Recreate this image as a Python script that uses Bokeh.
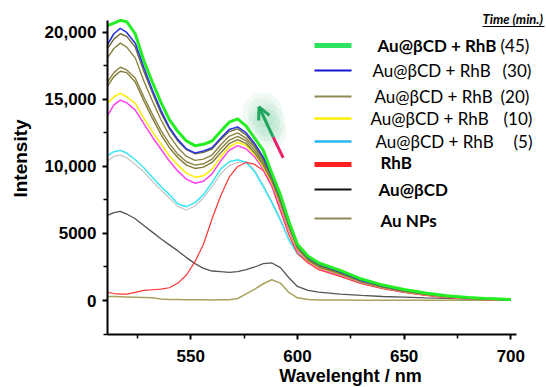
from bokeh.plotting import figure
from bokeh.models import Range1d, FixedTicker, Label, Arrow, OpenHead
from bokeh.embed import file_html
from bokeh.resources import INLINE

# ---------------- data ----------------
wavelength = [511, 514, 517, 520, 524, 528, 532, 536, 540, 544, 548, 552, 556, 560,
              564, 568, 572, 576, 580, 584, 588, 592, 596, 600, 605, 610, 620, 630,
              640, 650, 660, 670, 680, 690, 700]

au_cd_rhb_45 = [20500, 20700, 20900, 20800, 19900, 17900, 16300, 14800, 13500, 12600, 11900, 11550,
                11650, 11900, 12600, 13300, 13550, 13000, 12100, 11200, 9500, 7900, 5900, 4200,
                3300, 2800, 2250, 1600, 1150, 820, 560, 360, 230, 140, 70]
au_cd_rhb_30 = [19100, 19900, 20300, 20000, 19200, 17400, 15700, 14200, 12900, 12000, 11300, 11000,
                11150, 11400, 12100, 12750, 12950, 12500, 11700, 10700, 9300, 7700, 5700, 4100,
                3200, 2700, 2150, 1500, 1080, 760, 520, 330, 200, 120, 50]
au_cd_rhb_25 = [18800, 19500, 19900, 19700, 18900, 17100, 15500, 14000, 12800, 11900, 11250, 10950,
                11050, 11300, 12000, 12600, 12800, 12350, 11550, 10550, 9200, 7600, 5650, 4050,
                3150, 2650, 2100, 1480, 1050, 740, 500, 320, 190, 110, 50]
au_cd_rhb_20 = [18100, 18800, 19200, 18900, 18100, 16400, 14900, 13500, 12300, 11400, 10750, 10450,
                10550, 10850, 11600, 12250, 12500, 12100, 11400, 10400, 9100, 7500, 5600, 4000,
                3100, 2600, 2050, 1450, 1030, 720, 490, 310, 180, 100, 40]
au_cd_rhb_15a = [16300, 17000, 17400, 17200, 16600, 15200, 13900, 12700, 11700, 10900, 10350, 10100,
                 10200, 10550, 11300, 11950, 12250, 11900, 11200, 10250, 9000, 7400, 5550, 3950,
                 3050, 2550, 2000, 1420, 1000, 700, 470, 300, 170, 100, 40]
au_cd_rhb_15b = [16000, 16700, 17100, 17000, 16300, 14900, 13600, 12400, 11400, 10650, 10100, 9850,
                 9950, 10300, 11000, 11700, 12000, 11700, 11000, 10100, 8900, 7300, 5500, 3900,
                 3000, 2500, 1980, 1400, 980, 690, 460, 290, 170, 90, 30]
au_cd_rhb_10 = [14700, 15200, 15450, 15200, 14700, 13600, 12600, 11700, 10800, 10100, 9500, 9200,
                9300, 9800, 10700, 11450, 11800, 11550, 10900, 9950, 8800, 7200, 5400, 3850,
                2950, 2450, 1950, 1380, 970, 680, 450, 280, 160, 90, 30]
au_cd_rhb_8 = [13800, 14600, 14950, 14750, 14200, 13200, 12200, 11300, 10400, 9650, 9050, 8750,
               8900, 9450, 10400, 11200, 11550, 11300, 10700, 9800, 8600, 7000, 5250, 3750,
               2900, 2400, 1900, 1350, 950, 660, 440, 270, 150, 80, 20]
au_cd_rhb_5 = [10800, 11100, 11200, 11000, 10500, 9900, 9200, 8500, 7900, 7200, 7000, 7300,
               7900, 8800, 9800, 10350, 10500, 10300, 9600, 8500, 7300, 6000, 4500, 3500,
               2950, 2450, 1900, 1300, 920, 640, 420, 260, 140, 70, 20]
au_cd_rhb_2 = [10400, 10750, 10850, 10650, 10150, 9600, 8900, 8250, 7650, 7000, 6750, 7050,
               7650, 8500, 9450, 10050, 10300, 10350, 9700, 8600, 7400, 6100, 4600, 3500,
               2900, 2400, 1850, 1270, 900, 620, 400, 240, 130, 60, 20]
rhb = [600, 520, 480, 470, 600, 750, 800, 850, 950, 1300, 1900, 2900,
       4200, 6100, 7800, 9200, 10000, 10300, 10150, 9700, 8500, 6700, 4900, 3500,
       2800, 2300, 1800, 1250, 880, 600, 380, 220, 120, 50, 10]
au_cd = [6350, 6550, 6650, 6450, 6100, 5600, 5100, 4600, 4150, 3700, 3200, 2750,
         2400, 2200, 2150, 2100, 2150, 2300, 2500, 2750, 2800, 2450, 1700, 1050,
         750, 620, 480, 380, 300, 250, 200, 160, 130, 110, 100]
au_nps = [300, 290, 280, 270, 250, 230, 210, 120, 80, 70, 60, 60,
          60, 40, 50, 60, 150, 500, 850, 1250, 1550, 1300, 600, 200,
          80, 40, 30, 20, 20, 10, 10, 10, 10, 10, 10]

x_ticks = [550, 600, 650, 700]
x_minor = [525, 575, 625, 675]
y_ticks = [0, 5000, 10000, 15000, 20000]
y_minor = [-2500, 2500, 7500, 12500, 17500]
y_tick_labels = ["0", "5000", "10,000", "15,000", "20,000"]

legend_names = ["Au@\u03b2CD + RhB", "Au@\u03b2CD + RhB", "Au@\u03b2CD + RhB", "Au@\u03b2CD + RhB",
                "Au@\u03b2CD + RhB", "RhB", "Au@\u03b2CD", "Au NPs"]
legend_times = ["(45)", "(30)", "(20)", "(10)", "(5)", "", "", ""]

# ---------------- figure ----------------
X0, X1 = 511, 702.5
Y0, Y1 = -2500, 20900
W, H = 546, 387

# reference-picture pixel -> data coordinate helpers (for annotations only)
def dx(px):
    return X0 + (px - 107) / 2.134

def dy(py):
    return (300 - py) * 74.6

p = figure(width=W, height=H, output_backend="svg", toolbar_location=None,
           x_range=Range1d(dx(0), dx(W)), y_range=Range1d(dy(H), dy(0)),
           min_border=0)
p.outline_line_color = None
p.xgrid.visible = False
p.ygrid.visible = False

for ax in (p.xaxis[0], p.yaxis[0]):
    ax.axis_line_width = 2
    ax.axis_line_color = "black"
    ax.major_tick_out = 5
    ax.major_tick_in = 0
    ax.minor_tick_out = 4
    ax.minor_tick_in = 0
    ax.major_tick_line_width = 2
    ax.minor_tick_line_width = 1.5
    ax.major_label_text_font = "Liberation Sans"
    ax.major_label_text_font_style = "bold"
    ax.major_label_text_font_size = "17px"
    ax.major_label_text_color = "black"

p.xaxis[0].fixed_location = Y0
p.yaxis[0].fixed_location = X0
p.xaxis[0].bounds = (X0, X1)
p.yaxis[0].bounds = (Y0, Y1)
p.xaxis[0].ticker = FixedTicker(ticks=x_ticks, minor_ticks=x_minor)
p.yaxis[0].ticker = FixedTicker(ticks=y_ticks, minor_ticks=y_minor)
p.yaxis[0].major_label_overrides = {t: s for t, s in zip(y_ticks, y_tick_labels)}
p.xaxis[0].major_label_standoff = 11
p.yaxis[0].major_label_standoff = 6

# axis titles
p.add_layout(Label(x=dx(350), y=dy(375), text="Wavelenght / nm", text_font="Liberation Sans",
                   text_font_size="18px", text_font_style="bold", text_align="center",
                   text_baseline="middle", text_color="black"))
p.add_layout(Label(x=dx(20), y=dy(158), text="Intensity", text_font="Liberation Sans",
                   text_font_size="19px", text_font_style="bold", text_align="center",
                   text_baseline="middle", angle=1.5708, text_color="black"))

# ---------------- curves ----------------
series = [
    (au_cd_rhb_2, "#C8C8C8", 1.3),
    (au_cd_rhb_5, "#38E6F5", 1.5),
    (au_nps, "#A8A25C", 1.5),
    (au_cd, "#555555", 1.3),
    (rhb, "#FF3535", 1.2),
    (au_cd_rhb_8, "#FF40EE", 1.5),
    (au_cd_rhb_10, "#FFEE00", 1.5),
    (au_cd_rhb_15b, "#807A36", 1.4),
    (au_cd_rhb_15a, "#8A8440", 1.4),
    (au_cd_rhb_20, "#8A8440", 1.4),
    (au_cd_rhb_25, "#6E6A3A", 1.4),
    (au_cd_rhb_30, "#2B35E0", 1.6),
    (au_cd_rhb_45, "#22EE22", 3),
]
for ys, col, w in series:
    p.line(wavelength, ys, line_color=col, line_width=w)

# ---------------- arrow with soft glow ----------------
for (gx, gy, s) in [(262, 112, 40), (266, 122, 38), (270, 132, 32), (262, 112, 30),
                    (266, 122, 28), (270, 132, 22), (264, 117, 20)]:
    p.scatter([dx(gx)], [dy(gy)], size=s, fill_color="#8ED9AD", fill_alpha=0.12, line_color=None)
p.segment(x0=[dx(272.7)], y0=[dy(136.7)], x1=[dx(282.7)], y1=[dy(157.3)],
          line_color="#EE1F6A", line_width=3)
p.add_layout(Arrow(end=OpenHead(size=12, line_color="#1EA65E", line_width=3),
                   x_start=dx(272.7), y_start=dy(136.7), x_end=dx(258.5), y_end=dy(106.5),
                   line_color="#1EA65E", line_width=3))

# ---------------- manual legend ----------------
sw_colors = ["#2DE35F", "#1515D0", "#8F8A55", "#FFEE00", "#29B6F0", "#FF2020", "#111111", "#8F8A55"]
sw_widths = [5, 2, 2, 2.5, 2.5, 5, 2, 2]
row_py = [45, 70, 96, 118, 141, 164, 189, 218]
text_px = [377, 372, 374, 370, 375, 380, 378, 380]
text_py = [45, 70, 96, 118, 141, 162, 189, 220]
time_px = [500, 502, 500, 503, 513, 0, 0, 0]
bold_rows = [True, False, False, False, False, True, True, True]
for i in range(8):
    p.line([dx(314), dx(351)], [dy(row_py[i])] * 2, line_color=sw_colors[i], line_width=sw_widths[i])
    p.add_layout(Label(x=dx(text_px[i]), y=dy(text_py[i]), text=legend_names[i],
                       text_font="Lato", text_font_size="17px",
                       text_font_style="bold" if bold_rows[i] else "normal",
                       text_baseline="middle", text_align="left", text_color="black"))
    if legend_times[i]:
        p.add_layout(Label(x=dx(time_px[i]), y=dy(text_py[i]), text=legend_times[i],
                           text_font="Lato", text_font_size="17px", text_font_style="normal",
                           text_baseline="middle", text_align="left", text_color="black"))

p.add_layout(Label(x=dx(482), y=dy(18), text="Time (min.)", text_font="Lato",
                   text_font_size="13px", text_font_style="bold italic",
                   text_baseline="middle", text_align="left", text_color="black"))
p.segment(x0=[dx(482)], y0=[dy(26)], x1=[dx(544)], y1=[dy(26)], line_color="black", line_width=1)

open("out.html", "w").write(file_html(p, INLINE))
